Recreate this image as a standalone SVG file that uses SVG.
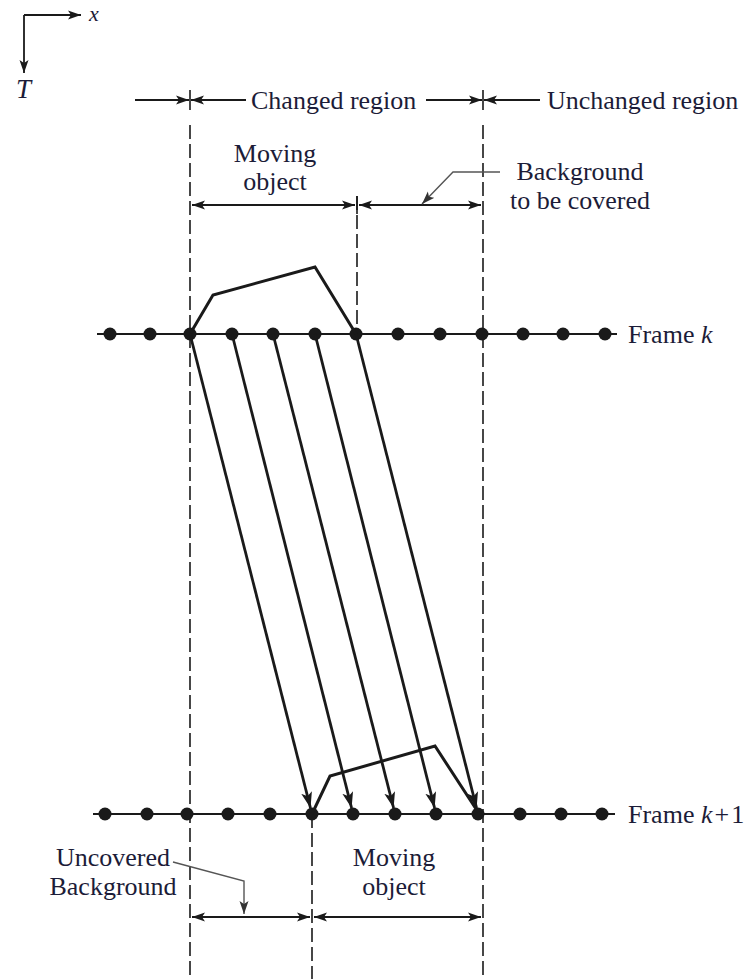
<svg xmlns="http://www.w3.org/2000/svg" width="753" height="979" viewBox="0 0 753 979">
<defs>
<marker id="ah" markerUnits="userSpaceOnUse" markerWidth="14" markerHeight="10" refX="13" refY="5" orient="auto-start-reverse">
<path d="M0,0.5 L13,5 L0,9.5 L3,5 z" fill="#1a1a1a"/>
</marker>
<marker id="ahb" markerUnits="userSpaceOnUse" markerWidth="18" markerHeight="12" refX="16" refY="6" orient="auto">
<path d="M0,0.5 L16,6 L0,11.5 L4,6 z" fill="#1a1a1a"/>
</marker>
<marker id="ahg" markerUnits="userSpaceOnUse" markerWidth="14" markerHeight="10" refX="13" refY="5" orient="auto">
<path d="M0,0.5 L13,5 L0,9.5 L3,5 z" fill="#333"/>
</marker>
</defs>
<style>
text{font-family:"Liberation Serif","Times New Roman",serif;font-size:26px;fill:#1c1c38}
.it{font-style:italic}
.dash{stroke:#1a1a1a;stroke-width:1.6;stroke-dasharray:14 5;fill:none}
.dim{stroke:#1a1a1a;stroke-width:1.8;fill:none}
.tick{stroke:#1a1a1a;stroke-width:1.6}
.frame{stroke:#1a1a1a;stroke-width:2;fill:none}
.obj{stroke:#1a1a1a;stroke-width:3;fill:none;stroke-linejoin:miter}
.mv{stroke:#1a1a1a;stroke-width:2.8;fill:none}
.lead{stroke:#555;stroke-width:1.4;fill:none}
.dot{fill:#1a1a1a}
</style>

<g id="axes">
<path class="dim" d="M24,15 H81" marker-end="url(#ah)"/>
<path class="dim" d="M24,15 V73" marker-end="url(#ah)"/>
<text class="it" x="89" y="21" style="font-size:22px">x</text>
<text class="it" x="16" y="98" style="font-size:27px">T</text>
</g>

<g id="boundaries">
<path class="dash" d="M190,125 V979"/>
<path class="dash" d="M483,125 V979"/>
<path class="dash" d="M357,196 V334"/>
<path class="dash" d="M312,814 V979"/>
</g>

<g id="top-labels">
<line class="tick" x1="190" y1="90" x2="190" y2="110"/>
<line class="tick" x1="483" y1="90" x2="483" y2="110"/>
<path class="dim" d="M135,100 H189" marker-end="url(#ah)"/>
<path class="dim" d="M246,100 H191" marker-end="url(#ah)"/>
<text x="251" y="109">Changed region</text>
<path class="dim" d="M426,100 H482" marker-end="url(#ah)"/>
<path class="dim" d="M540,100 H484" marker-end="url(#ah)"/>
<text x="547" y="109">Unchanged region</text>
</g>

<g id="moving-object-k">
<text x="275" y="162" text-anchor="middle">Moving</text>
<text x="275" y="190" text-anchor="middle">object</text>
<path class="dim" d="M192,205 H355" marker-start="url(#ah)" marker-end="url(#ah)"/>
<line class="tick" x1="357" y1="196" x2="357" y2="214"/>
</g>

<g id="background-covered">
<text x="580" y="180" text-anchor="middle">Background</text>
<text x="580" y="209" text-anchor="middle">to be covered</text>
<path class="dim" d="M359,205 H481" marker-start="url(#ah)" marker-end="url(#ah)"/>
<path class="lead" d="M500,172 H453 L422,204" marker-end="url(#ahg)"/>
</g>

<g id="frame-k">
<line class="frame" x1="97" y1="334" x2="617" y2="334"/>
<g class="dot">
<circle cx="110" cy="334" r="6.5"/><circle cx="150" cy="334" r="6.5"/><circle cx="190" cy="334" r="6.5"/>
<circle cx="232" cy="334" r="6.5"/><circle cx="273" cy="334" r="6.5"/><circle cx="315" cy="334" r="6.5"/>
<circle cx="356" cy="334" r="6.5"/><circle cx="398" cy="334" r="6.5"/><circle cx="440" cy="334" r="6.5"/>
<circle cx="482" cy="334" r="6.5"/><circle cx="523" cy="334" r="6.5"/><circle cx="563" cy="334" r="6.5"/>
<circle cx="605" cy="334" r="6.5"/>
</g>
<path class="obj" d="M190,334 L213,295 L315,267 L356,334"/>
<text x="628" y="343">Frame <tspan class="it">k</tspan></text>
</g>

<g id="frame-k1">
<line class="frame" x1="93" y1="814" x2="615" y2="814"/>
<g class="dot">
<circle cx="105" cy="814" r="6.5"/><circle cx="147" cy="814" r="6.5"/><circle cx="187" cy="814" r="6.5"/>
<circle cx="228" cy="814" r="6.5"/><circle cx="270" cy="814" r="6.5"/><circle cx="312" cy="814" r="6.5"/>
<circle cx="353" cy="814" r="6.5"/><circle cx="395" cy="814" r="6.5"/><circle cx="436" cy="814" r="6.5"/>
<circle cx="478" cy="814" r="6.5"/><circle cx="520" cy="814" r="6.5"/><circle cx="561" cy="814" r="6.5"/>
<circle cx="602" cy="814" r="6.5"/>
</g>
<path class="obj" d="M312,814 L330,776 L435,746 L478,812"/>
<text x="628" y="823">Frame <tspan class="it">k</tspan><tspan dx="2">+</tspan><tspan dx="2">1</tspan></text>
</g>

<g id="connectors">
<path class="mv" d="M190,334 L310.5,808" marker-end="url(#ahb)"/>
<path class="mv" d="M232,334 L351.6,808" marker-end="url(#ahb)"/>
<path class="mv" d="M273,334 L393.6,808" marker-end="url(#ahb)"/>
<path class="mv" d="M315,334 L434.6,808" marker-end="url(#ahb)"/>
<path class="mv" d="M356,334 L476.6,808" marker-end="url(#ahb)"/>
</g>

<g id="uncovered-background">
<text x="113" y="866" text-anchor="middle">Uncovered</text>
<text x="113" y="895" text-anchor="middle">Background</text>
<path class="dim" d="M192,917 H310" marker-start="url(#ah)" marker-end="url(#ah)"/>
<path class="lead" d="M173,862 L244,881 V914" marker-end="url(#ahg)"/>
</g>

<g id="moving-object-k1">
<text x="394" y="866" text-anchor="middle">Moving</text>
<text x="394" y="895" text-anchor="middle">object</text>
<path class="dim" d="M314,917 H481" marker-start="url(#ah)" marker-end="url(#ah)"/>
</g>
</svg>
